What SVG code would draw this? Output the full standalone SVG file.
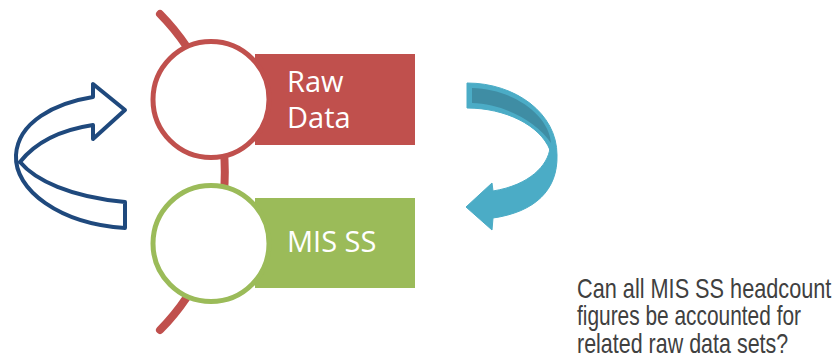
<svg xmlns="http://www.w3.org/2000/svg" width="835" height="360" viewBox="0 0 835 360">
<style>
.lbl{font-family:"Open Sans","Liberation Sans",sans-serif;font-size:29px;fill:#ffffff}
.note{font-family:"Liberation Sans",Arial,sans-serif;font-size:27px;fill:#404040}
.ring{fill:#ffffff;stroke-width:5}
</style>
<rect width="835" height="360" fill="#ffffff"/>
<g id="connectors">
<path id="spine" d="M160,14 A225,225 0 0 1 160,330" fill="none" stroke="#C0504D" stroke-width="8" stroke-linecap="round"/>
<path id="arrow-left" d="M93,97 C55,103 18,122 16,155 C14,190 60,224 125,228 L125,202 C70,197 35,180 20,162 C35,143 60,130 93,125 L93,139 L125,110 L93,84 Z" fill="#ffffff" stroke="#1F497D" stroke-width="4" stroke-linejoin="round"/>
<g id="arrow-right">
<path d="M467,83 C515,83 557,113 557,155 L550,150 C540,125 505,108 467,108 Z" fill="#4BACC6" stroke="#4BACC6" stroke-width="1" stroke-linejoin="round"/>
<path d="M472,88 C513,89 549,115 551,143 C537,122 505,104 472,103 Z" fill="#3F8DA4"/>
<path d="M550,148 C548,165 530,185 493,191 L492,183 L466,207 L492,230 L493,218 C535,212 558,190 557,155 Z" fill="#4BACC6" stroke="#4BACC6" stroke-width="1" stroke-linejoin="round"/>
</g>
</g>
<g id="node-raw-data">
<rect x="255" y="54" width="160" height="91" fill="#C0504D"/>
<circle class="ring" cx="211" cy="99.5" r="58" stroke="#C0504D"/>
<text class="lbl" x="287" y="92">Raw</text>
<text class="lbl" x="287" y="128">Data</text>
</g>
<g id="node-mis-ss">
<rect x="255" y="198" width="160" height="90" fill="#9BBB59"/>
<circle class="ring" cx="211" cy="243.5" r="58" stroke="#9BBB59"/>
<text class="lbl" x="287" y="252">MIS SS</text>
</g>
<g id="note" transform="matrix(0.8,0,0,1,577,0)">
<text class="note" x="0" y="298" textLength="318" lengthAdjust="spacingAndGlyphs">Can all MIS SS headcount</text>
<text class="note" x="0" y="325" textLength="280" lengthAdjust="spacingAndGlyphs">figures be accounted for</text>
<text class="note" x="0" y="353" textLength="264" lengthAdjust="spacingAndGlyphs">related raw data sets?</text>
</g>
</svg>
